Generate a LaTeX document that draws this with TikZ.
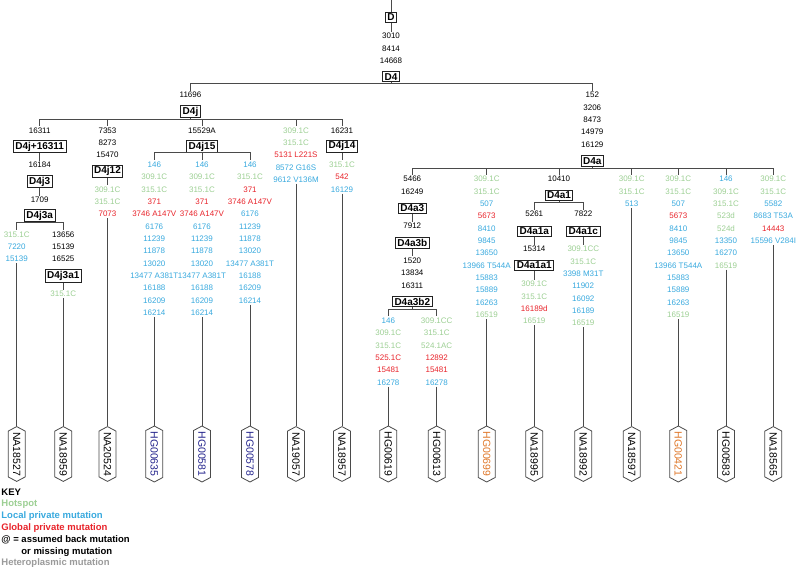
\documentclass[tikz,border=0pt]{standalone}
\usepackage{fontspec}
\setmainfont{Liberation Sans}
\usetikzlibrary{shapes.symbols}
\definecolor{hot}{HTML}{9CCF93}
\definecolor{lpm}{HTML}{38A9DE}
\definecolor{gpm}{HTML}{E8242B}
\definecolor{het}{HTML}{9A9A9A}
\definecolor{navy}{HTML}{23238C}
\definecolor{amber}{HTML}{E0782A}
\definecolor{wire}{HTML}{4A4A4A}
\definecolor{boxline}{HTML}{222222}

\begin{document}
\begin{tikzpicture}[
  x=1pt, y=-1pt,
  every node/.style={font=\fontsize{8}{9}\selectfont, inner sep=1.2pt},
  hg/.style={draw=boxline, line width=1pt, fill=white, font=\fontsize{10}{11}\selectfont\bfseries, inner xsep=2pt, inner ysep=1.6pt},
  link/.style={wire, line width=0.9pt},
  leaf/.style={signal, signal to=east and west, signal pointer angle=124, draw=wire, line width=0.8pt, fill=white, rotate=-90, minimum height=17pt, font=\fontsize{10.5}{12}\selectfont, inner xsep=1pt, inner ysep=2pt},
  keyline/.style={anchor=west, font=\fontsize{9.5}{10}\selectfont\bfseries},
]
\useasboundingbox (0,0) rectangle (796,568);

% Root D
\coordinate (root) at (391,0);
\node[hg] (d) at (391,17.5) {D};
\node (m3010) at (391,36) {3010};
\node (m8414) at (391,48.3) {8414};
\node (m14668) at (391,60.7) {14668};
\node[hg] (d4) at (391,76.7) {D4};
\draw[link] (root) -- (d.north);
\draw[link] (d.south) -- (m3010.north);

% D4 split
\coordinate (d4bar) at (391,83.5);
\node (m11696) at (190.5,95) {11696};
\node[hg] (d4j) at (190.5,111.7) {D4j};
\node (m152) at (592.3,95) {152};
\node (m3206) at (592.3,107.3) {3206};
\node (m8473) at (592.3,119.7) {8473};
\node (m14979) at (592.3,132) {14979};
\node (m16129) at (592.3,144.3) {16129};
\node[hg] (d4a) at (592.3,161) {D4a};
\draw[link] (d4.south) -- (d4bar);
\draw[link] (d4bar) -| (m11696.north);
\draw[link] (d4bar) -| (m152.north);

% ---------------- D4j ----------------
\coordinate (d4jbar) at (190.5,119.3);
\draw[link] (d4j.south) -- (d4jbar);

% D4j+16311
\node (m16311) at (39.7,130.3) {16311};
\node[hg] (d4j16311) at (39.7,146.7) {D4j+16311};
\node (m16184) at (39.7,165) {16184};
\node[hg] (d4j3) at (39.7,181.7) {D4j3};
\node (m1709) at (39.7,200) {1709};
\node[hg] (d4j3a) at (39.7,215.7) {D4j3a};
\draw[link] (d4jbar) -| (m16311.north);
\draw[link] (d4j16311.south) -- (m16184.north);
\draw[link] (d4j3.south) -- (m1709.north);
\coordinate (d4j3abar) at (39.7,222);
\draw[link] (d4j3a.south) -- (d4j3abar);

\node[text=hot] (j3a-1) at (16.7,234.3) {315.1C};
\node[text=lpm] (j3a-2) at (16.7,246.7) {7220};
\node[text=lpm] (j3a-3) at (16.7,259) {15139};
\node (j3b-1) at (63.3,234.3) {13656};
\node (j3b-2) at (63.3,246.7) {15139};
\node (j3b-3) at (63.3,259) {16525};
\node[hg] (d4j3a1) at (63.3,276.2) {D4j3a1};
\node[text=hot] (j3b-4) at (63.3,294) {315.1C};
\draw[link] (d4j3abar) -| (j3a-1.north);
\draw[link] (d4j3abar) -| (j3b-1.north);
\draw[link] (d4j3a1.south) -- (j3b-4.north);

% D4j12
\node (m7353) at (107.5,130.3) {7353};
\node (m8273) at (107.5,142.6) {8273};
\node (m15470) at (107.5,155) {15470};
\node[hg] (d4j12) at (107.5,171.3) {D4j12};
\node[text=hot] (j12-1) at (107.5,189.3) {309.1C};
\node[text=hot] (j12-2) at (107.5,201.7) {315.1C};
\node[text=gpm] (j12-3) at (107.5,214) {7073};
\draw[link] (d4jbar) -| (m7353.north);
\draw[link] (d4j12.south) -- (j12-1.north);

% D4j15
\node (m15529a) at (202,130.3) {15529A};
\node[hg] (d4j15) at (202,146.5) {D4j15};
\coordinate (d4j15bar) at (202,152.7);
\draw[link] (d4jbar) -| (m15529a.north);
\draw[link] (d4j15.south) -- (d4j15bar);
\foreach \t/\c [count=\i] in {146/lpm, 309.1C/hot, 315.1C/hot, 371/gpm, 3746 A147V/gpm, 6176/lpm, 11239/lpm, 11878/lpm, 13020/lpm, 13477 A381T/lpm, 16188/lpm, 16209/lpm, 16214/lpm}
  \node[text=\c] (j15a-\i) at (154.3,{164.7+12.33*(\i-1)}) {\t};
\foreach \t/\c [count=\i] in {146/lpm, 309.1C/hot, 315.1C/hot, 371/gpm, 3746 A147V/gpm, 6176/lpm, 11239/lpm, 11878/lpm, 13020/lpm, 13477 A381T/lpm, 16188/lpm, 16209/lpm, 16214/lpm}
  \node[text=\c] (j15b-\i) at (202,{164.7+12.33*(\i-1)}) {\t};
\foreach \t/\c [count=\i] in {146/lpm, 315.1C/hot, 371/gpm, 3746 A147V/gpm, 6176/lpm, 11239/lpm, 11878/lpm, 13020/lpm, 13477 A381T/lpm, 16188/lpm, 16209/lpm, 16214/lpm}
  \node[text=\c] (j15c-\i) at (250,{164.7+12.33*(\i-1)}) {\t};
\draw[link] (d4j15bar) -| (j15a-1.north);
\draw[link] (d4j15bar) -- (j15b-1.north);
\draw[link] (d4j15bar) -| (j15c-1.north);

% NA19057 branch
\node[text=hot] (j19-1) at (296,130.3) {309.1C};
\node[text=hot] (j19-2) at (296,142.6) {315.1C};
\node[text=gpm] (j19-3) at (296,155) {5131 L221S};
\node[text=lpm] (j19-4) at (296,167.3) {8572 G16S};
\node[text=lpm] (j19-5) at (296,179.6) {9612 V136M};
\draw[link] (d4jbar) -| (j19-1.north);

% D4j14
\node (m16231) at (342,130.3) {16231};
\node[hg] (d4j14) at (342,146.3) {D4j14};
\node[text=hot] (j14-1) at (342,164.7) {315.1C};
\node[text=gpm] (j14-2) at (342,177) {542};
\node[text=lpm] (j14-3) at (342,189.3) {16129};
\draw[link] (d4jbar) -| (m16231.north);
\draw[link] (d4j14.south) -- (j14-1.north);

% ---------------- D4a ----------------
\coordinate (d4abar) at (592.3,168);
\draw[link] (d4a.south) -- (d4abar);

% D4a3
\node (m5466) at (412.3,179) {5466};
\node (m16249) at (412.3,191.3) {16249};
\node[hg] (d4a3) at (412.3,208.3) {D4a3};
\node (m7912) at (412.3,226) {7912};
\node[hg] (d4a3b) at (412.3,242.8) {D4a3b};
\node (m1520) at (412.3,260.7) {1520};
\node (m13834) at (412.3,273) {13834};
\node (m16311b) at (412.3,285.3) {16311};
\node[hg] (d4a3b2) at (412.3,301.5) {D4a3b2};
\coordinate (d4a3b2bar) at (412.3,309);
\draw[link] (d4abar) -| (m5466.north);
\draw[link] (d4a3.south) -- (m7912.north);
\draw[link] (d4a3b.south) -- (m1520.north);
\draw[link] (d4a3b2.south) -- (d4a3b2bar);
\foreach \t/\c [count=\i] in {146/lpm, 309.1C/hot, 315.1C/hot, 525.1C/gpm, 15481/gpm, 16278/lpm}
  \node[text=\c] (a3x-\i) at (388.3,{320.7+12.33*(\i-1)}) {\t};
\foreach \t/\c [count=\i] in {309.1CC/hot, 315.1C/hot, 524.1AC/hot, 12892/gpm, 15481/gpm, 16278/lpm}
  \node[text=\c] (a3y-\i) at (436.7,{320.7+12.33*(\i-1)}) {\t};
\draw[link] (d4a3b2bar) -| (a3x-1.north);
\draw[link] (d4a3b2bar) -| (a3y-1.north);

% HG00699 branch
\foreach \t/\c [count=\i] in {309.1C/hot, 315.1C/hot, 507/lpm, 5673/gpm, 8410/lpm, 9845/lpm, 13650/lpm, 13966 T544A/lpm, 15883/lpm, 15889/lpm, 16263/lpm, 16519/hot}
  \node[text=\c] (a699-\i) at (486.7,{179+12.33*(\i-1)}) {\t};
\draw[link] (d4abar) -| (a699-1.north);

% D4a1
\node (m10410) at (559,179) {10410};
\node[hg] (d4a1) at (559,195.5) {D4a1};
\coordinate (d4a1bar) at (559,202.3);
\draw[link] (d4abar) -| (m10410.north);
\draw[link] (d4a1.south) -- (d4a1bar);

\node (m5261) at (534.3,214) {5261};
\node[hg] (d4a1a) at (534.3,231.2) {D4a1a};
\node (m15314) at (534.3,249) {15314};
\node[hg] (d4a1a1) at (534.3,265.5) {D4a1a1};
\foreach \t/\c [count=\i] in {309.1C/hot, 315.1C/hot, 16189d/gpm, 16519/hot}
  \node[text=\c] (a1a-\i) at (534.3,{284+12.33*(\i-1)}) {\t};
\draw[link] (d4a1bar) -| (m5261.north);
\draw[link] (d4a1a.south) -- (m15314.north);
\draw[link] (d4a1a1.south) -- (a1a-1.north);

\node (m7822) at (583.3,214) {7822};
\node[hg] (d4a1c) at (583.3,231.2) {D4a1c};
\foreach \t/\c [count=\i] in {309.1CC/hot, 315.1C/hot, 3398 M31T/lpm, 11902/lpm, 16092/lpm, 16189/lpm, 16519/hot}
  \node[text=\c] (a1c-\i) at (583.3,{249+12.33*(\i-1)}) {\t};
\draw[link] (d4a1bar) -| (m7822.north);
\draw[link] (d4a1c.south) -- (a1c-1.north);

% NA18597 branch
\node[text=hot] (a597-1) at (631.7,179) {309.1C};
\node[text=hot] (a597-2) at (631.7,191.3) {315.1C};
\node[text=lpm] (a597-3) at (631.7,203.7) {513};
\draw[link] (d4abar) -| (a597-1.north);

% HG00421 branch
\foreach \t/\c [count=\i] in {309.1C/hot, 315.1C/hot, 507/lpm, 5673/gpm, 8410/lpm, 9845/lpm, 13650/lpm, 13966 T544A/lpm, 15883/lpm, 15889/lpm, 16263/lpm, 16519/hot}
  \node[text=\c] (a421-\i) at (678.3,{179+12.33*(\i-1)}) {\t};
\draw[link] (d4abar) -| (a421-1.north);

% HG00583 branch
\foreach \t/\c [count=\i] in {146/lpm, 309.1C/hot, 315.1C/hot, 523d/hot, 524d/hot, 13350/lpm, 16270/lpm, 16519/hot}
  \node[text=\c] (a583-\i) at (726,{179+12.33*(\i-1)}) {\t};
\draw[link] (d4abar) -| (a583-1.north);

% NA18565 branch
\foreach \t/\c [count=\i] in {309.1C/hot, 315.1C/hot, 5582/lpm, 8683 T53A/lpm, 14443/gpm, 15596 V284I/lpm}
  \node[text=\c] (a565-\i) at (773.3,{179+12.33*(\i-1)}) {\t};
\draw[link] (d4abar) -| (a565-1.north);

% ---------------- samples ----------------
\node[leaf] (na18527) at (16.7,454) {NA18527};
\node[leaf] (na18959) at (63.3,454) {NA18959};
\node[leaf] (na20524) at (107.5,454) {NA20524};
\node[leaf, text=navy] (hg00635) at (154.3,454) {HG00635};
\node[leaf, text=navy] (hg00581) at (202,454) {HG00581};
\node[leaf, text=navy] (hg00578) at (250,454) {HG00578};
\node[leaf] (na19057) at (296,454) {NA19057};
\node[leaf] (na18957) at (342,454) {NA18957};
\node[leaf] (hg00619) at (388.3,454) {HG00619};
\node[leaf] (hg00613) at (436.7,454) {HG00613};
\node[leaf, text=amber] (hg00699) at (486.7,454) {HG00699};
\node[leaf] (na18995) at (534.3,454) {NA18995};
\node[leaf] (na18992) at (583.3,454) {NA18992};
\node[leaf] (na18597) at (631.7,454) {NA18597};
\node[leaf, text=amber] (hg00421) at (678.3,454) {HG00421};
\node[leaf] (hg00583) at (726,454) {HG00583};
\node[leaf] (na18565) at (773.3,454) {NA18565};

\draw[link] (j3a-3.south) -- (na18527.west);
\draw[link] (j3b-4.south) -- (na18959.west);
\draw[link] (j12-3.south) -- (na20524.west);
\draw[link] (j15a-13.south) -- (hg00635.west);
\draw[link] (j15b-13.south) -- (hg00581.west);
\draw[link] (j15c-12.south) -- (hg00578.west);
\draw[link] (j19-5.south) -- (na19057.west);
\draw[link] (j14-3.south) -- (na18957.west);
\draw[link] (a3x-6.south) -- (hg00619.west);
\draw[link] (a3y-6.south) -- (hg00613.west);
\draw[link] (a699-12.south) -- (hg00699.west);
\draw[link] (a1a-4.south) -- (na18995.west);
\draw[link] (a1c-7.south) -- (na18992.west);
\draw[link] (a597-3.south) -- (na18597.west);
\draw[link] (a421-12.south) -- (hg00421.west);
\draw[link] (a583-8.south) -- (hg00583.west);
\draw[link] (a565-6.south) -- (na18565.west);

% Key
\node[keyline] (key) at (0,492.3) {KEY};
\node[keyline, text=hot] (keyhot) at (0,504.7) {Hotspot};
\node[keyline, text=lpm] (keylpm) at (0,516.3) {Local private mutation};
\node[keyline, text=gpm] (keygpm) at (0,528) {Global private mutation};
\node[keyline] (keyback) at (0,540) {@ = assumed back mutation};
\node[keyline] (keymiss) at (20,551.7) {or missing mutation};
\node[keyline, text=het] (keyhet) at (0,563.3) {Heteroplasmic mutation};

\end{tikzpicture}
\end{document}
